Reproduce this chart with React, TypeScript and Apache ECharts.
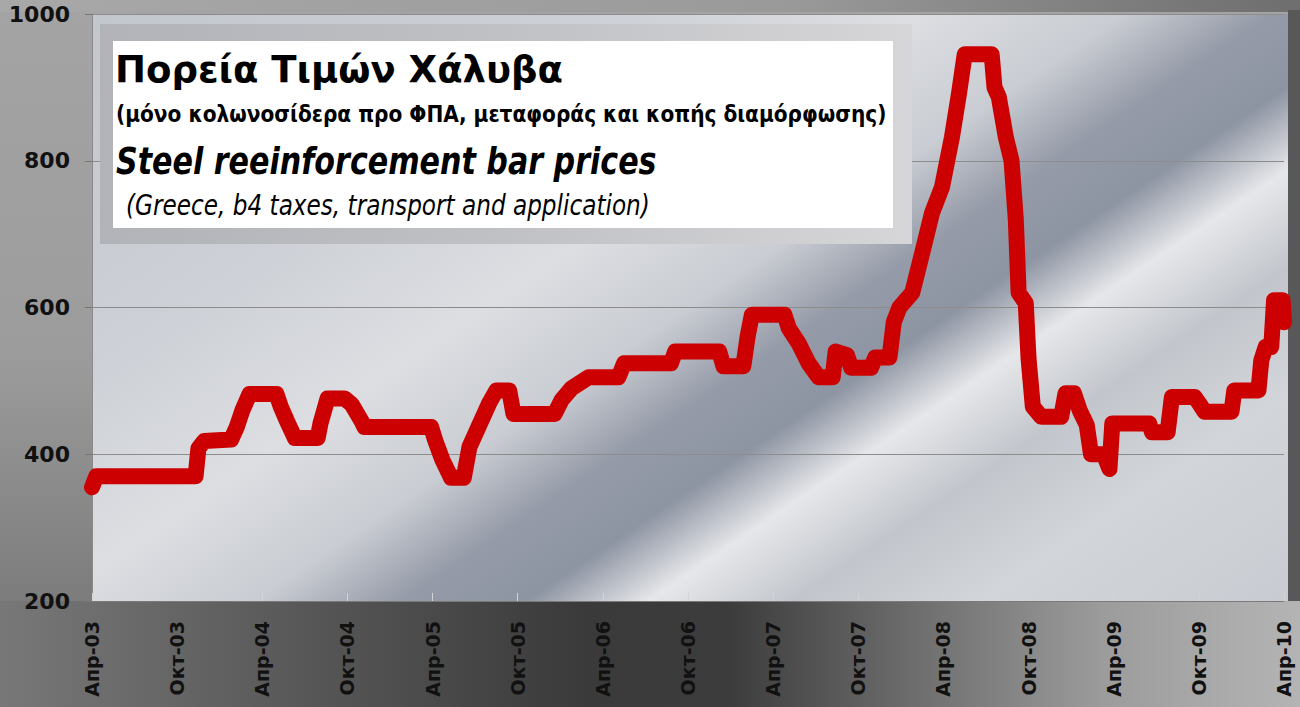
import React, { useEffect, useRef } from "react";
import * as echarts from "echarts";

// Months since April 2003 (x) and price in €/t (y)
const monthOffsets = [
  0, 0.3, 7.3, 7.5, 7.9, 9.8, 10.2, 10.6, 11.1, 13.0, 13.3, 13.7, 14.3, 15.9, 16.1, 16.6, 17.8, 18.3,
  19.0, 19.2, 23.9, 24.2, 24.7, 25.3, 26.2, 26.6, 27.3, 28.0, 28.5, 29.4, 29.7, 32.6, 33.1, 33.8,
  35.0, 37.1, 37.5, 40.8, 41.1, 44.2, 44.5, 45.9, 46.2, 46.5, 48.8, 49.1, 49.8, 50.5, 51.2, 52.2,
  52.4, 53.2, 53.5, 54.9, 55.2, 56.2, 56.5, 56.9, 57.8, 58.5, 59.2, 59.9, 60.6, 61.1, 61.5, 63.4,
  63.6, 63.9, 64.4, 64.8, 65.1, 65.3, 65.8, 66.0, 66.3, 66.9, 68.3, 68.6, 69.2, 69.6, 70.1, 70.4,
  71.3, 71.7, 71.9, 74.5, 74.7, 75.8, 76.1, 77.7, 78.0, 78.4, 80.3, 80.5, 82.2, 82.4, 82.7, 83.1,
  83.3, 83.9, 84.0,
];
const prices = [
  355, 370, 370, 408, 418, 420, 437, 460, 482, 482, 465, 447, 422, 422, 442, 476, 476, 468,
  445, 437, 437, 418, 392, 368, 368, 410, 440, 470, 487, 487, 455, 455, 474, 490,
  505, 505, 524, 524, 540, 540, 520, 520, 560, 590, 590, 572, 551, 524, 505, 505,
  540, 535, 518, 518, 532, 532, 580, 600, 620, 674, 729, 764, 832, 892, 945, 945,
  900, 887, 832, 800, 720, 620, 606, 530, 465, 451, 451, 483, 483, 460, 440, 400,
  400, 380, 442, 442, 430, 430, 478, 478, 470, 458, 458, 487, 487, 528, 546, 546,
  610, 610, 580,
];
const xTickLabels = [
  "Апр-03", "Окт-03", "Апр-04", "Окт-04", "Апр-05", "Окт-05", "Апр-06", "Окт-06",
  "Апр-07", "Окт-07", "Апр-08", "Окт-08", "Апр-09", "Окт-09", "Апр-10",
];
const yTicks = [200, 400, 600, 800, 1000];

const titleLines = [
  "Πορεία Τιμών Χάλυβα",
  "(μόνο κολωνοσίδερα προ ΦΠΑ, μεταφοράς και κοπής διαμόρφωσης)",
  "Steel reeinforcement bar prices",
  "(Greece, b4 taxes, transport and application)",
];

const FONT = '"DejaVu Sans", Verdana, sans-serif';

function fitScale(text: string, font: string, target: number): number {
  const c = document.createElement("canvas").getContext("2d");
  if (!c) return 1;
  c.font = font;
  const w = c.measureText(text).width;
  return w > 0 ? target / w : 1;
}

export default function App() {
  const ref = useRef<HTMLDivElement>(null);

  useEffect(() => {
    document.body.style.margin = "0";
    if (!ref.current) return;
    const chart = echarts.init(ref.current, undefined, { renderer: "svg" });

    const L = 92, T = 14, R = 1284, B = 601;

    const textSpecs = [
      { text: titleLines[0], style: "normal", weight: "bold", size: 38, x: 115, y: 69, w: 448 },
      { text: titleLines[1], style: "normal", weight: "bold", size: 23, x: 116, y: 114, w: 771 },
      { text: titleLines[2], style: "italic", weight: "bold", size: 38, x: 116, y: 161, w: 541 },
      { text: titleLines[3], style: "italic", weight: "normal", size: 28, x: 126, y: 205, w: 524 },
    ];

    const textEls = textSpecs.map((t) => {
      const font = `${t.style} ${t.weight} ${t.size}px ${FONT}`;
      const s = fitScale(t.text, font, t.w);
      return {
        type: "text",
        x: t.x,
        y: t.y,
        scaleX: s,
        originX: 0,
        z: 60,
        style: {
          text: t.text,
          x: 0,
          y: 0,
          fill: "#000",
          fontFamily: FONT,
          fontSize: t.size,
          fontWeight: t.weight,
          fontStyle: t.style,
          verticalAlign: "middle",
          align: "left",
        },
      };
    });

    const G = echarts.graphic;

    const option: any = {
      animation: false,
      graphic: [
        {
          type: "rect",
          z: -20,
          shape: { x: 0, y: 0, width: 1300, height: 707 },
          style: {
            fill: new G.LinearGradient(0, 0, 0, 1, [
              { offset: 0, color: "#a4a4a4" },
              { offset: 0.5, color: "#9c9c9c" },
              { offset: 0.85, color: "#7c7c7c" },
              { offset: 1, color: "#6c6c6c" },
            ]),
          },
        },
        {
          type: "rect",
          z: -19,
          shape: { x: 0, y: 0, width: 1300, height: 12 },
          style: {
            fill: new G.LinearGradient(0, 0, 1, 0, [
              { offset: 0, color: "#a8a8a8" },
              { offset: 0.6, color: "#9a9a9a" },
              { offset: 1, color: "#6e6e6e" },
            ]),
          },
        },
        {
          type: "rect",
          z: -19,
          shape: { x: 0, y: B, width: 1300, height: 707 - B },
          style: {
            fill: new G.LinearGradient(0, 0, 1, 0, [
              { offset: 0, color: "#787878" },
              { offset: 0.2, color: "#5c5c5c" },
              { offset: 0.45, color: "#3a3a3a" },
              { offset: 0.56, color: "#3c3c3c" },
              { offset: 0.7, color: "#6c6c6c" },
              { offset: 0.85, color: "#9c9c9c" },
              { offset: 1, color: "#b4b4b4" },
            ]),
          },
        },
        {
          type: "rect",
          z: -19,
          shape: { x: 1288, y: 10, width: 12, height: B - 10 },
          style: { fill: "#585858" },
        },
        {
          type: "rect",
          z: -18,
          shape: { x: L, y: T, width: 1288 - L, height: B - T },
          style: {
            fill: new G.LinearGradient(
              L, T, L + 0.56 * 1155, T + 0.83 * 1155,
              [
                { offset: 0, color: "#c2c6cd" },
                { offset: 0.25, color: "#cdd0d6" },
                { offset: 0.4, color: "#dcdee2" },
                { offset: 0.5, color: "#c9ccd2" },
                { offset: 0.57, color: "#959ba8" },
                { offset: 0.63, color: "#8d94a2" },
                { offset: 0.69, color: "#e6e7ea" },
                { offset: 0.76, color: "#c2c6cc" },
                { offset: 0.85, color: "#d2d5d9" },
                { offset: 1, color: "#c8ccd2" },
              ],
              true
            ),
          },
        },
        // title box frame
        {
          type: "rect",
          z: 50,
          shape: { x: 100, y: 24, width: 812, height: 220 },
          style: {
            fill: new G.LinearGradient(0, 0, 1, 0, [
              { offset: 0, color: "#b2b3b8" },
              { offset: 0.5, color: "#c0c1c5" },
              { offset: 1, color: "#d6d6d8" },
            ]),
          },
        },
        {
          type: "rect",
          z: 51,
          shape: { x: 113, y: 41, width: 780, height: 187 },
          style: { fill: "#ffffff" },
        },
        ...textEls,
      ],
      grid: { left: L, top: T, right: 1300 - R, bottom: 707 - B, containLabel: false },
      xAxis: {
        type: "value",
        min: 0,
        max: 84,
        interval: 6,
        splitLine: { show: false },
        axisLine: { show: true, lineStyle: { color: "#7a7a7a", width: 1 } },
        axisTick: { show: true, inside: true, length: 8, lineStyle: { color: "#d4d4d4" } },
        axisLabel: {
          rotate: 90,
          margin: 20,
          color: "#111",
          fontFamily: FONT,
          fontWeight: "bold",
          fontSize: 19,
          formatter: (v: number) => xTickLabels[Math.round(v / 6)] ?? "",
        },
      },
      yAxis: {
        type: "value",
        min: yTicks[0],
        max: yTicks[yTicks.length - 1],
        interval: 200,
        axisLine: { show: true, lineStyle: { color: "#8a8a8a", width: 1 } },
        axisTick: { show: true, length: 7, lineStyle: { color: "#777" } },
        splitLine: { show: true, lineStyle: { color: "#8c8c8c", width: 1 } },
        axisLabel: {
          margin: 22,
          color: "#111",
          fontFamily: FONT,
          fontWeight: "bold",
          fontSize: 22,
          formatter: (v: number) => String(v),
        },
      },
      series: [
        {
          type: "line",
          data: monthOffsets.map((m, i) => [m, prices[i]]),
          showSymbol: false,
          z: 10,
          lineStyle: { color: "#cc0000", width: 16, cap: "round", join: "round" },
        },
      ],
    };

    chart.setOption(option);
    return () => chart.dispose();
  }, []);

  return <div ref={ref} style={{ width: 1300, height: 707 }} />;
}
